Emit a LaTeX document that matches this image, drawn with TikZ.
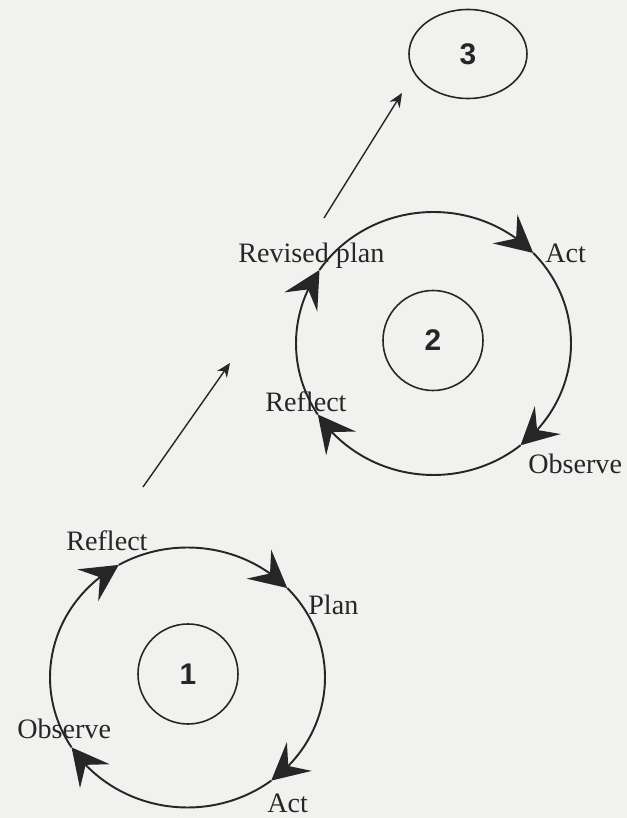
\documentclass[tikz,border=0pt]{standalone}
\usepackage{fontspec}
\setmainfont{Liberation Serif}
\newfontfamily\numfont{Liberation Sans}
\usetikzlibrary{arrows.meta,calc,shapes.geometric,bending}
\definecolor{ink}{HTML}{262626}
\definecolor{paper}{HTML}{F1F1EF}

\begin{document}
\begin{tikzpicture}[text=ink,
  stage/.style={draw=ink,line width=.9pt,circle,minimum size=2cm,inner sep=0pt,
    font=\numfont\bfseries\fontsize{17}{20}\selectfont},
  phase/.style={anchor=base west,inner sep=0pt,font=\fontsize{16}{19}\selectfont},
  spiral/.style={draw=ink,line width=1.1pt,
    -{Stealth[length=7.4mm,width=7.6mm,inset=2.9mm]}},
  link/.style={draw=ink,line width=.8pt,-{Stealth[length=2.8mm,width=2.4mm]}}]
  \fill[paper] (0,0) rectangle (12.54,16.36);

  % first cycle
  \coordinate (c1) at (3.75,2.81);
  \foreach \a/\b in {212.5/120,120/43.5,43.5/-52.5,-52.5/-147.5}
    \draw[spiral] ($(c1)+(\a:2.75 and 2.6)$)
      arc[start angle=\a,end angle=\b,x radius=2.75,y radius=2.6];
  \node[stage] (one) at (3.76,2.88) {1};
  \node[phase] (refl1) at (1.32,5.34) {Reflect};
  \node[phase] (plan1) at (6.16,4.06) {Plan};
  \node[phase] (act1) at (5.34,0.1) {Act};
  \node[phase] (obs1) at (0.34,1.58) {Observe};

  % second cycle
  \coordinate (c2) at (8.67,9.49);
  \foreach \a/\b in {146/43.5,43.5/-50.7,-50.7/-147.3,-147.3/-214}
    \draw[spiral] ($(c2)+(\a:2.75 and 2.63)$)
      arc[start angle=\a,end angle=\b,x radius=2.75,y radius=2.63];
  \node[stage] (two) at (8.66,9.55) {2};
  \node[phase] (plan2) at (4.76,11.1) {Revised plan};
  \node[phase] (act2) at (10.9,11.1) {Act};
  \node[phase] (obs2) at (10.56,6.88) {Observe};
  \node[phase] (refl2) at (5.30,8.12) {Reflect};

  \node[stage,ellipse,minimum width=2.36cm,minimum height=1.78cm]
    (three) at (9.36,15.28) {3};

  % moving on
  \coordinate (go1) at (2.86,6.62);
  \coordinate (to1) at (4.60,9.10);
  \coordinate (go2) at (6.48,12.0);
  \coordinate (to2) at (8.04,14.5);
  \draw[link] (go1) -- (to1);
  \draw[link] (go2) -- (to2);
\end{tikzpicture}
\end{document}
